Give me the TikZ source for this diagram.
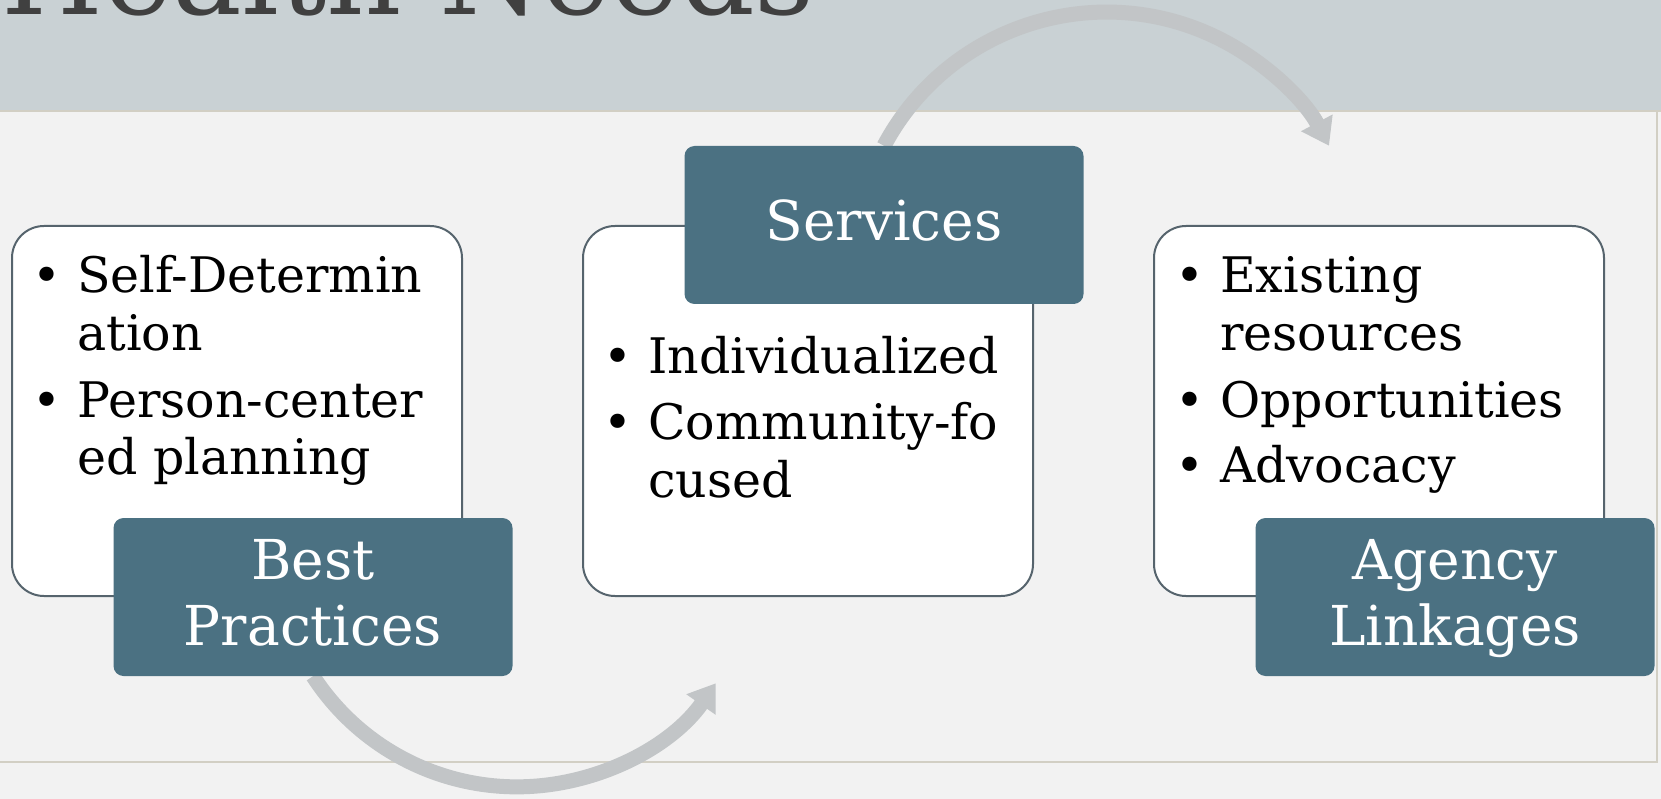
\documentclass[tikz,border=0pt]{standalone}
\usepackage{fontspec}
\setmainfont{DejaVu Serif}
\usetikzlibrary{arrows.meta,backgrounds}
\definecolor{hdr}{HTML}{C9D1D4}
\definecolor{pagebg}{HTML}{F2F2F2}
\definecolor{rulecol}{HTML}{D2CFC4}
\definecolor{slate}{HTML}{56646D}
\definecolor{tile}{HTML}{4B7182}
\definecolor{arrowgray}{HTML}{C2C5C7}
\definecolor{titlegray}{HTML}{404040}
\newcommand{\bitem}[1]{\par\hangindent=45pt\hangafter=1\noindent\makebox[45pt][l]{\textbullet}#1}
\newcommand{\lst}[1]{\parbox[t]{420pt}{\fontsize{49}{58}\selectfont\setlength{\parskip}{8pt}#1}}

\begin{document}
\begin{tikzpicture}[x=1pt,y=-1pt,
    listbox/.style={draw=slate, line width=2pt, fill=white, rounded corners=32pt,
      minimum width=450pt, minimum height=370pt, inner sep=0pt},
    headbox/.style={fill=tile, text=white, rounded corners=10pt, align=center,
      minimum width=399pt, minimum height=158pt, inner sep=0pt, text depth=10pt,
      font=\fontsize{55}{66}\selectfont},
    flow/.style={draw=arrowgray, line width=15pt,
      -{Triangle[length=26pt,width=34pt]}}]
  \useasboundingbox (0,0) rectangle (1661,799);

        \node (lbox) at (237,411) [listbox] {};
        \node (mbox) at (808,411) [listbox] {};
        \node (rbox) at (1379,411) [listbox] {};

        \node (best) at ([xshift=76pt]lbox.south) [headbox] {Best\\Practices};
        \node (serv) at ([xshift=76pt]mbox.north) [headbox] {Services};
        \node (agen) at ([xshift=76pt]rbox.south) [headbox] {Agency\\Linkages};

        \node (ltxt) at (32,293) [anchor=base west, inner sep=0pt]
          {\lst{\bitem{Self-Determin\\ation}\bitem{Person-center\\ed planning}}};
        \node (mtxt) at (603,373) [anchor=base west, inner sep=0pt]
          {\lst{\bitem{Individualized}\bitem{Community-fo\\cused}}};
        \node (rtxt) at (1175,293) [anchor=base west, inner sep=0pt]
          {\lst{\bitem{Existing\\resources}\bitem{Opportunities}\bitem{Advocacy}}};

  \begin{scope}[on background layer]
        \fill[pagebg] (0,0) rectangle (1661,799);
        \fill[hdr] (0,0) rectangle (1661,111);
        \draw[rulecol, line width=2pt] (0,111) -- (1661,111);
        \draw[rulecol, line width=2pt] (0,762) -- (1657,762) -- (1657,111);
        \node (ttl) at (1,15) [anchor=base west, inner sep=0pt, text=titlegray,
          font=\fontsize{117}{130}\selectfont] {Health Needs};
        \draw[flow] (best.south) arc[start angle=147, end angle=35, radius=243];
        \draw[flow] (serv.north) arc[start angle=208, end angle=332, radius=252];
  \end{scope}
\end{tikzpicture}
\end{document}
